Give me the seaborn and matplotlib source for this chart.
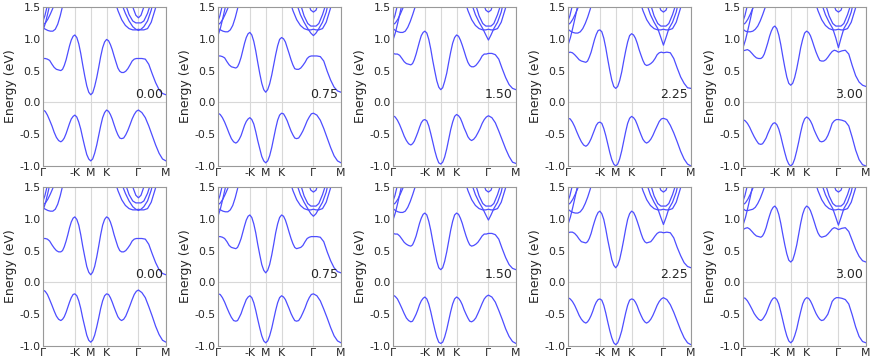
import seaborn as sns
import matplotlib
matplotlib.use("Agg")
import matplotlib.pyplot as plt

# k-path Γ -> -K -> M -> K -> Γ -> M, as fraction of path length
k_ticks = [0.0, 0.2587, 0.388, 0.5173, 0.776, 1.0]
k_labels = ['Γ', '-K', 'M', 'K', 'Γ', 'M']
fields = ['0.00', '0.75', '1.50', '2.25', '3.00']

# sampling points for the two bands around the gap
k = [0.000, 0.018, 0.036, 0.054, 0.073, 0.091, 0.109, 0.127, 0.145,
     0.159, 0.173, 0.188, 0.202, 0.216, 0.230, 0.245, 0.259,
     0.275, 0.291, 0.307, 0.323, 0.340, 0.356, 0.372, 0.388,
     0.404, 0.420, 0.437, 0.453, 0.469, 0.485, 0.501, 0.517,
     0.533, 0.548, 0.563, 0.578, 0.594, 0.609, 0.624, 0.639,
     0.656, 0.673, 0.690, 0.708, 0.725, 0.742, 0.759, 0.776,
     0.804, 0.832, 0.860, 0.888, 0.916, 0.944, 0.972, 1.000]

# valence band, top row
vb_top = [
    [-0.12, -0.14, -0.20, -0.28, -0.37, -0.47, -0.55, -0.60, -0.62, -0.60, -0.56, -0.49, -0.41, -0.33, -0.26, -0.22,
     -0.20, -0.23, -0.31, -0.42, -0.56, -0.70, -0.82, -0.89, -0.92, -0.89, -0.80, -0.67, -0.52, -0.37, -0.24, -0.16,
     -0.12, -0.14, -0.19, -0.26, -0.35, -0.44, -0.51, -0.56, -0.57, -0.56, -0.51, -0.44, -0.35, -0.26, -0.19, -0.14,
     -0.12, -0.16, -0.24, -0.37, -0.52, -0.67, -0.80, -0.89, -0.92],
    [-0.17, -0.19, -0.24, -0.31, -0.40, -0.49, -0.57, -0.62, -0.64, -0.62, -0.58, -0.52, -0.44, -0.36, -0.30, -0.26,
     -0.24, -0.27, -0.34, -0.46, -0.60, -0.73, -0.85, -0.92, -0.95, -0.92, -0.84, -0.71, -0.56, -0.41, -0.28, -0.20,
     -0.17, -0.18, -0.23, -0.29, -0.37, -0.45, -0.51, -0.56, -0.57, -0.56, -0.51, -0.45, -0.37, -0.29, -0.23, -0.18,
     -0.17, -0.20, -0.28, -0.41, -0.56, -0.71, -0.84, -0.92, -0.95],
    [-0.21, -0.23, -0.28, -0.35, -0.44, -0.53, -0.60, -0.65, -0.67, -0.65, -0.61, -0.54, -0.47, -0.39, -0.32, -0.28,
     -0.27, -0.29, -0.37, -0.49, -0.62, -0.76, -0.87, -0.95, -0.97, -0.94, -0.86, -0.73, -0.58, -0.43, -0.31, -0.22,
     -0.19, -0.21, -0.25, -0.32, -0.40, -0.47, -0.54, -0.58, -0.60, -0.58, -0.54, -0.48, -0.41, -0.33, -0.27, -0.23,
     -0.21, -0.24, -0.32, -0.45, -0.59, -0.73, -0.85, -0.94, -0.96],
    [-0.25, -0.26, -0.31, -0.38, -0.47, -0.55, -0.62, -0.67, -0.69, -0.67, -0.63, -0.57, -0.50, -0.43, -0.36, -0.32,
     -0.31, -0.33, -0.41, -0.52, -0.65, -0.79, -0.90, -0.97, -1.00, -0.97, -0.89, -0.76, -0.61, -0.46, -0.33, -0.25,
     -0.22, -0.24, -0.28, -0.35, -0.43, -0.51, -0.58, -0.62, -0.64, -0.62, -0.58, -0.52, -0.44, -0.37, -0.30, -0.26,
     -0.25, -0.27, -0.36, -0.48, -0.62, -0.77, -0.89, -0.97, -1.00],
    [-0.27, -0.29, -0.33, -0.39, -0.47, -0.54, -0.60, -0.65, -0.66, -0.65, -0.61, -0.56, -0.49, -0.43, -0.37, -0.33,
     -0.32, -0.35, -0.42, -0.53, -0.66, -0.79, -0.90, -0.97, -1.00, -0.97, -0.89, -0.76, -0.62, -0.47, -0.34, -0.26,
     -0.23, -0.25, -0.29, -0.35, -0.43, -0.50, -0.56, -0.61, -0.62, -0.61, -0.58, -0.52, -0.43, -0.33, -0.29, -0.27,
     -0.27, -0.28, -0.30, -0.37, -0.55, -0.75, -0.90, -0.98, -1.00],
]
# conduction band, top row
cb_top = [
    [0.69, 0.69, 0.68, 0.66, 0.60, 0.55, 0.52, 0.51, 0.50, 0.52, 0.58, 0.67, 0.78, 0.89, 0.98, 1.04,
     1.06, 1.02, 0.92, 0.77, 0.59, 0.41, 0.26, 0.16, 0.12, 0.15, 0.25, 0.39, 0.55, 0.72, 0.86, 0.95,
     0.99, 0.97, 0.91, 0.83, 0.73, 0.63, 0.54, 0.49, 0.47, 0.47, 0.49, 0.53, 0.59, 0.65, 0.68, 0.69,
     0.69, 0.69, 0.68, 0.60, 0.45, 0.31, 0.20, 0.14, 0.12],
    [0.73, 0.73, 0.72, 0.70, 0.64, 0.59, 0.56, 0.55, 0.54, 0.56, 0.62, 0.71, 0.82, 0.93, 1.02, 1.08,
     1.10, 1.06, 0.96, 0.81, 0.63, 0.45, 0.30, 0.20, 0.16, 0.20, 0.29, 0.43, 0.59, 0.75, 0.89, 0.99,
     1.02, 1.00, 0.95, 0.86, 0.77, 0.67, 0.59, 0.53, 0.52, 0.52, 0.54, 0.58, 0.63, 0.69, 0.72, 0.73,
     0.73, 0.73, 0.72, 0.65, 0.49, 0.35, 0.24, 0.18, 0.16],
    [0.77, 0.76, 0.76, 0.74, 0.69, 0.64, 0.61, 0.60, 0.59, 0.61, 0.67, 0.76, 0.86, 0.96, 1.05, 1.10,
     1.12, 1.09, 0.99, 0.84, 0.66, 0.49, 0.34, 0.24, 0.20, 0.23, 0.33, 0.46, 0.63, 0.79, 0.93, 1.02,
     1.06, 1.04, 0.98, 0.90, 0.81, 0.71, 0.63, 0.58, 0.56, 0.56, 0.58, 0.62, 0.67, 0.73, 0.76, 0.76,
     0.77, 0.77, 0.75, 0.68, 0.53, 0.39, 0.28, 0.22, 0.20],
    [0.78, 0.79, 0.78, 0.75, 0.71, 0.67, 0.65, 0.64, 0.63, 0.65, 0.71, 0.79, 0.89, 0.99, 1.07, 1.13,
     1.14, 1.11, 1.01, 0.86, 0.68, 0.50, 0.35, 0.25, 0.22, 0.25, 0.34, 0.48, 0.65, 0.81, 0.95, 1.05,
     1.08, 1.06, 1.01, 0.93, 0.83, 0.74, 0.66, 0.60, 0.58, 0.59, 0.61, 0.64, 0.69, 0.75, 0.78, 0.79,
     0.78, 0.79, 0.78, 0.69, 0.54, 0.40, 0.30, 0.23, 0.22],
    [0.81, 0.82, 0.83, 0.81, 0.77, 0.73, 0.70, 0.69, 0.69, 0.71, 0.76, 0.85, 0.94, 1.04, 1.12, 1.18,
     1.20, 1.16, 1.06, 0.91, 0.73, 0.55, 0.40, 0.30, 0.27, 0.30, 0.39, 0.53, 0.69, 0.86, 0.99, 1.09,
     1.12, 1.10, 1.05, 0.97, 0.88, 0.79, 0.72, 0.66, 0.65, 0.65, 0.67, 0.71, 0.76, 0.80, 0.82, 0.81,
     0.79, 0.81, 0.82, 0.76, 0.58, 0.42, 0.32, 0.27, 0.25],
]
# valence band, bottom row
vb_bot = [
    [-0.12, -0.14, -0.19, -0.27, -0.36, -0.45, -0.53, -0.58, -0.60, -0.58, -0.54, -0.47, -0.39, -0.31, -0.24, -0.19,
     -0.18, -0.21, -0.29, -0.41, -0.56, -0.70, -0.83, -0.91, -0.94, -0.91, -0.83, -0.70, -0.56, -0.41, -0.29, -0.21,
     -0.18, -0.19, -0.24, -0.31, -0.39, -0.47, -0.54, -0.58, -0.60, -0.58, -0.53, -0.45, -0.36, -0.27, -0.19, -0.14,
     -0.12, -0.16, -0.24, -0.38, -0.53, -0.69, -0.82, -0.91, -0.94],
    [-0.18, -0.19, -0.24, -0.31, -0.40, -0.48, -0.55, -0.60, -0.61, -0.60, -0.55, -0.49, -0.41, -0.34, -0.27, -0.23,
     -0.21, -0.24, -0.32, -0.44, -0.58, -0.72, -0.84, -0.92, -0.95, -0.92, -0.84, -0.72, -0.58, -0.44, -0.32, -0.24,
     -0.21, -0.23, -0.27, -0.34, -0.41, -0.49, -0.55, -0.60, -0.61, -0.60, -0.55, -0.48, -0.40, -0.31, -0.24, -0.19,
     -0.18, -0.21, -0.29, -0.42, -0.56, -0.71, -0.84, -0.92, -0.95],
    [-0.20, -0.22, -0.26, -0.33, -0.41, -0.49, -0.56, -0.60, -0.62, -0.61, -0.56, -0.50, -0.43, -0.35, -0.29, -0.25,
     -0.23, -0.26, -0.34, -0.46, -0.60, -0.74, -0.86, -0.94, -0.96, -0.94, -0.86, -0.74, -0.60, -0.46, -0.34, -0.26,
     -0.23, -0.25, -0.29, -0.35, -0.43, -0.50, -0.56, -0.61, -0.62, -0.60, -0.56, -0.49, -0.41, -0.33, -0.26, -0.22,
     -0.20, -0.23, -0.31, -0.44, -0.58, -0.73, -0.85, -0.93, -0.96],
    [-0.24, -0.26, -0.30, -0.36, -0.44, -0.52, -0.58, -0.62, -0.64, -0.62, -0.58, -0.52, -0.45, -0.37, -0.31, -0.27,
     -0.26, -0.28, -0.36, -0.48, -0.62, -0.76, -0.87, -0.95, -0.98, -0.95, -0.87, -0.76, -0.62, -0.48, -0.36, -0.28,
     -0.26, -0.27, -0.31, -0.37, -0.45, -0.52, -0.58, -0.62, -0.64, -0.62, -0.58, -0.52, -0.44, -0.36, -0.30, -0.26,
     -0.24, -0.27, -0.35, -0.47, -0.61, -0.75, -0.87, -0.95, -0.98],
    [-0.24, -0.25, -0.29, -0.35, -0.42, -0.49, -0.54, -0.58, -0.60, -0.58, -0.54, -0.49, -0.42, -0.35, -0.29, -0.25,
     -0.24, -0.27, -0.34, -0.46, -0.59, -0.73, -0.84, -0.92, -0.95, -0.92, -0.84, -0.73, -0.59, -0.46, -0.34, -0.27,
     -0.24, -0.25, -0.29, -0.35, -0.42, -0.49, -0.54, -0.58, -0.60, -0.59, -0.55, -0.50, -0.40, -0.30, -0.26, -0.24,
     -0.24, -0.25, -0.27, -0.34, -0.51, -0.70, -0.85, -0.93, -0.95],
]
# conduction band, bottom row
cb_bot = [
    [0.69, 0.69, 0.68, 0.65, 0.59, 0.54, 0.50, 0.48, 0.48, 0.50, 0.56, 0.65, 0.75, 0.86, 0.95, 1.01,
     1.03, 0.99, 0.90, 0.75, 0.57, 0.40, 0.25, 0.16, 0.12, 0.16, 0.25, 0.40, 0.57, 0.75, 0.90, 0.99,
     1.03, 1.01, 0.95, 0.86, 0.75, 0.65, 0.56, 0.50, 0.48, 0.48, 0.50, 0.54, 0.59, 0.65, 0.68, 0.69,
     0.69, 0.69, 0.68, 0.60, 0.45, 0.31, 0.20, 0.14, 0.12],
    [0.72, 0.72, 0.71, 0.69, 0.64, 0.58, 0.55, 0.54, 0.53, 0.55, 0.61, 0.69, 0.79, 0.89, 0.98, 1.04,
     1.06, 1.02, 0.92, 0.78, 0.60, 0.43, 0.28, 0.19, 0.15, 0.19, 0.28, 0.43, 0.60, 0.78, 0.92, 1.02,
     1.06, 1.04, 0.98, 0.89, 0.79, 0.69, 0.61, 0.55, 0.53, 0.54, 0.55, 0.58, 0.64, 0.69, 0.71, 0.72,
     0.72, 0.72, 0.71, 0.64, 0.48, 0.34, 0.23, 0.17, 0.15],
    [0.77, 0.76, 0.76, 0.73, 0.68, 0.63, 0.60, 0.58, 0.57, 0.59, 0.65, 0.73, 0.83, 0.93, 1.01, 1.07,
     1.09, 1.06, 0.96, 0.82, 0.65, 0.48, 0.33, 0.23, 0.20, 0.23, 0.33, 0.48, 0.65, 0.82, 0.96, 1.06,
     1.09, 1.07, 1.01, 0.93, 0.83, 0.73, 0.65, 0.59, 0.57, 0.58, 0.60, 0.63, 0.68, 0.73, 0.76, 0.76,
     0.77, 0.77, 0.75, 0.68, 0.53, 0.39, 0.28, 0.22, 0.20],
    [0.78, 0.79, 0.79, 0.77, 0.73, 0.68, 0.64, 0.63, 0.62, 0.64, 0.69, 0.77, 0.87, 0.96, 1.04, 1.10,
     1.12, 1.08, 0.99, 0.84, 0.67, 0.51, 0.36, 0.27, 0.23, 0.27, 0.36, 0.51, 0.67, 0.84, 0.99, 1.08,
     1.12, 1.10, 1.04, 0.96, 0.87, 0.77, 0.69, 0.64, 0.62, 0.63, 0.64, 0.68, 0.73, 0.77, 0.79, 0.79,
     0.78, 0.79, 0.78, 0.70, 0.55, 0.42, 0.31, 0.25, 0.23],
    [0.83, 0.85, 0.86, 0.84, 0.80, 0.76, 0.73, 0.72, 0.71, 0.73, 0.78, 0.86, 0.96, 1.05, 1.13, 1.18,
     1.20, 1.16, 1.07, 0.93, 0.76, 0.59, 0.45, 0.35, 0.32, 0.35, 0.45, 0.59, 0.76, 0.93, 1.07, 1.16,
     1.20, 1.18, 1.13, 1.05, 0.96, 0.86, 0.78, 0.73, 0.71, 0.72, 0.73, 0.76, 0.80, 0.84, 0.86, 0.85,
     0.83, 0.85, 0.86, 0.80, 0.66, 0.52, 0.41, 0.34, 0.32],
]

# higher bands near the left Γ
k_low = [0.0, 0.02, 0.04, 0.06, 0.08, 0.10]
low_top = [[1.13, 1.25, 1.41, 1.58, 1.76, 1.95],
           [1.05, 1.17, 1.33, 1.50, 1.68, 1.87],
           [0.98, 1.10, 1.26, 1.43, 1.61, 1.80],
           [0.90, 1.02, 1.18, 1.35, 1.53, 1.72],
           [0.86, 0.98, 1.14, 1.31, 1.49, 1.68]]
low_bot = [[1.13, 1.25, 1.41, 1.58, 1.76, 1.95],
           [1.04, 1.16, 1.32, 1.49, 1.67, 1.86],
           [0.98, 1.10, 1.26, 1.43, 1.61, 1.80],
           [0.91, 1.03, 1.19, 1.36, 1.54, 1.73],
           [0.90, 1.02, 1.18, 1.35, 1.53, 1.72]]

k_a = [0.0, 0.02, 0.04, 0.06, 0.08, 0.10, 0.12, 0.14, 0.16, 0.18, 0.20, 0.22]
a_top = [[1.17, 1.15, 1.13, 1.12, 1.12, 1.15, 1.23, 1.36, 1.52, 1.70, 1.90, 2.10],
         [1.16, 1.14, 1.12, 1.11, 1.11, 1.14, 1.21, 1.33, 1.48, 1.66, 1.86, 2.06],
         [1.16, 1.13, 1.11, 1.10, 1.10, 1.12, 1.18, 1.27, 1.38, 1.50, 1.65, 1.80],
         [1.15, 1.12, 1.10, 1.09, 1.09, 1.11, 1.16, 1.24, 1.34, 1.46, 1.60, 1.75],
         [1.15, 1.12, 1.11, 1.11, 1.12, 1.15, 1.20, 1.28, 1.38, 1.49, 1.62, 1.75]]
a_bot = [[1.17, 1.15, 1.13, 1.12, 1.12, 1.15, 1.23, 1.36, 1.52, 1.70, 1.90, 2.10],
         [1.16, 1.14, 1.12, 1.11, 1.11, 1.14, 1.21, 1.33, 1.48, 1.66, 1.86, 2.06],
         [1.16, 1.13, 1.11, 1.10, 1.10, 1.12, 1.18, 1.27, 1.38, 1.50, 1.65, 1.80],
         [1.15, 1.12, 1.10, 1.09, 1.09, 1.11, 1.16, 1.24, 1.34, 1.46, 1.60, 1.75],
         [1.16, 1.13, 1.13, 1.14, 1.15, 1.18, 1.24, 1.32, 1.42, 1.53, 1.66, 1.80]]

k_b = [0.0, 0.02, 0.04, 0.06, 0.08, 0.10, 0.12]
e_b = [1.22, 1.25, 1.31, 1.39, 1.48, 1.58, 1.70]
k_c = [0.0, 0.015, 0.03, 0.045]
e_c = [1.28, 1.36, 1.48, 1.62]

# higher bands near the middle Γ
k_mid = [0.58, 0.61, 0.64, 0.67, 0.70, 0.73, 0.755, 0.776, 0.797, 0.82, 0.85, 0.88, 0.91, 0.94]
outer_mid = [1.62, 1.44, 1.30, 1.21, 1.16, 1.14, 1.14, 1.15, 1.14, 1.14, 1.16, 1.26, 1.45, 1.65]
v_top = [[1.9, 1.75, 1.55, 1.40, 1.28, 1.19, 1.15, 1.13, 1.15, 1.19, 1.28, 1.45, 1.7, 1.9],
         [1.9, 1.75, 1.55, 1.38, 1.26, 1.16, 1.09, 1.05, 1.09, 1.16, 1.26, 1.42, 1.68, 1.9],
         [1.9, 1.75, 1.55, 1.38, 1.26, 1.16, 1.06, 0.98, 1.06, 1.16, 1.26, 1.42, 1.68, 1.9],
         [1.9, 1.75, 1.55, 1.38, 1.26, 1.16, 1.02, 0.90, 1.02, 1.16, 1.26, 1.42, 1.68, 1.9],
         [1.9, 1.75, 1.55, 1.38, 1.26, 1.16, 1.01, 0.86, 1.01, 1.16, 1.26, 1.42, 1.68, 1.9]]
v_bot = [[1.9, 1.75, 1.55, 1.40, 1.28, 1.19, 1.15, 1.13, 1.15, 1.19, 1.28, 1.45, 1.7, 1.9],
         [1.9, 1.75, 1.55, 1.38, 1.26, 1.16, 1.08, 1.04, 1.08, 1.16, 1.26, 1.42, 1.68, 1.9],
         [1.9, 1.75, 1.55, 1.38, 1.26, 1.16, 1.06, 0.98, 1.06, 1.16, 1.26, 1.42, 1.68, 1.9],
         [1.9, 1.75, 1.55, 1.38, 1.26, 1.16, 1.02, 0.91, 1.02, 1.16, 1.26, 1.42, 1.68, 1.9],
         [1.9, 1.75, 1.55, 1.38, 1.26, 1.16, 1.02, 0.90, 1.02, 1.16, 1.26, 1.42, 1.68, 1.9]]
par_zero = [2.0, 2.0, 1.85, 1.55, 1.38, 1.28, 1.25, 1.25, 1.25, 1.28, 1.40, 1.58, 1.85, 2.0]
par_field = [2.0, 2.0, 1.85, 1.55, 1.36, 1.24, 1.20, 1.20, 1.20, 1.24, 1.38, 1.56, 1.85, 2.0]
inner_zero = [2.0, 2.0, 2.0, 2.0, 1.75, 1.50, 1.37, 1.33, 1.37, 1.50, 1.75, 2.0, 2.0, 2.0]
inner_field = [2.0, 2.0, 2.0, 2.0, 1.80, 1.58, 1.45, 1.42, 1.45, 1.58, 1.80, 2.0, 2.0, 2.0]

sns.set_style("white")
plt.rcParams['font.family'] = ['DejaVu Sans']
plt.rcParams['axes.unicode_minus'] = False

fig, axes = plt.subplots(2, 5, figsize=(8.72, 3.6), dpi=100)
fig.subplots_adjust(left=0.0493, right=0.9931, bottom=0.0389, top=0.9806,
                    wspace=0.423, hspace=0.132)

line_kw = dict(color='#4d4dff', lw=0.9, sort=False, estimator=None, legend=False)
rows = [(vb_top, cb_top, low_top, a_top, v_top), (vb_bot, cb_bot, low_bot, a_bot, v_bot)]

for r, (vbs, cbs, lows, aas, vs) in enumerate(rows):
    for c in range(5):
        ax = axes[r, c]
        par = par_zero if c == 0 else par_field
        inner = inner_zero if c == 0 else inner_field
        curves = [(k, vbs[c]), (k, cbs[c]), (k_low, lows[c]), (k_a, aas[c]),
                  (k_b, e_b), (k_c, e_c), (k_mid, outer_mid), (k_mid, vs[c]),
                  (k_mid, par), (k_mid, inner)]
        for kk, ee in curves:
            sns.lineplot(x=kk, y=ee, ax=ax, **line_kw)
        ax.set_xlim(0, 1)
        ax.set_ylim(-1.0, 1.5)
        ax.set_xticks(k_ticks)
        ax.set_xticklabels(k_labels)
        ax.set_yticks([-1.0, -0.5, 0.0, 0.5, 1.0, 1.5])
        ax.grid(axis='x', color='#d8d8d8', lw=0.8)
        ax.axhline(0, color='#d8d8d8', lw=0.8, zorder=0)
        ax.set_ylabel('Energy (eV)', fontsize=9, labelpad=2)
        ax.set_xlabel('')
        ax.text(0.975, 0.015, fields[c], ha='right', va='bottom', fontsize=9)
        ax.tick_params(labelsize=7.8, length=0, pad=1.5)
        for s in ax.spines.values():
            s.set_color('#999999')
            s.set_linewidth(0.8)

fig.savefig('out.png', dpi=100)
